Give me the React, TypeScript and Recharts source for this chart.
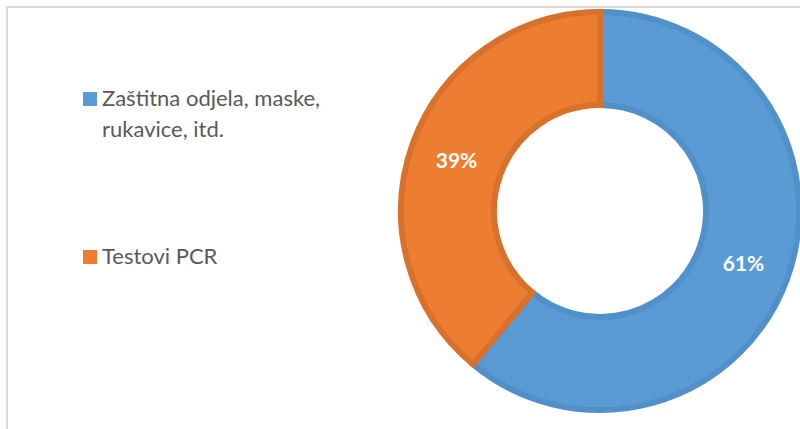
import React from 'react';
import { PieChart, Pie, Cell, Legend } from 'recharts';

const categories = ['Zaštitna odjela, maske, rukavice, itd.', 'Testovi PCR'];
const shares = [61, 39];

const fills = ['#5B9BD5', '#ED7D31'];
const strokes = ['#5190C9', '#D8712B'];

const data = categories.map((name, i) => ({ name, value: shares[i] }));

const RADIAN = Math.PI / 180;

const renderLabel = (props: any) => {
  const { cx, cy, midAngle, innerRadius, outerRadius, value } = props;
  const r = (innerRadius + outerRadius) / 2;
  const x = cx + r * Math.cos(-midAngle * RADIAN);
  const y = cy + r * Math.sin(-midAngle * RADIAN);
  return (
    <text
      x={x}
      y={y}
      fill="#ffffff"
      textAnchor="middle"
      dominantBaseline="central"
      fontFamily="Lato, sans-serif"
      fontWeight={700}
      fontSize={21}
    >
      {`${value}%`}
    </text>
  );
};

const legendLines = [
  ['Zaštitna odjela, maske,', 'rukavice, itd.'],
  ['Testovi PCR'],
];
const legendTops = [82, 240];

const renderLegend = () => (
  <div style={{ position: 'absolute', left: 0, top: 0, width: 380, height: 429 }}>
    {legendLines.map((lines, i) => (
      <div
        key={i}
        style={{
          position: 'absolute',
          left: 83,
          top: legendTops[i],
          display: 'flex',
          alignItems: 'flex-start',
          fontFamily: 'Lato, sans-serif',
          fontSize: 22,
          lineHeight: '31px',
          color: '#595959',
        }}
      >
        <span
          style={{
            display: 'inline-block',
            width: 14,
            height: 14,
            marginTop: 10,
            marginRight: 5,
            background: fills[i],
          }}
        />
        <div>
          {lines.map((l, j) => (
            <div key={j}>{l}</div>
          ))}
        </div>
      </div>
    ))}
  </div>
);

export default function App() {
  return (
    <div style={{ position: 'absolute', left: 0, top: 0, width: 800, height: 429, overflow: 'hidden', background: '#fff' }}>
      <div
        style={{
          position: 'absolute',
          left: 6,
          top: 6,
          width: 820,
          height: 440,
          borderTop: '2px solid #d9d9d9',
          borderLeft: '2px solid #d9d9d9',
        }}
      />
      <PieChart
        width={800}
        height={429}
        margin={{ top: 0, right: 0, bottom: 0, left: 0 }}
        style={{ position: 'absolute', left: 0, top: 0 }}
      >
        <Pie
          data={data}
          dataKey="value"
          nameKey="name"
          cx={600}
          cy={211}
          outerRadius={199}
          innerRadius={106}
          startAngle={90}
          endAngle={-270}
          label={renderLabel}
          labelLine={false}
          isAnimationActive={false}
        >
          {data.map((d, i) => (
            <Cell key={d.name} fill={fills[i]} stroke={strokes[i]} strokeWidth={6} />
          ))}
        </Pie>
        <Legend content={renderLegend} wrapperStyle={{ left: 0, top: 0, width: 380, height: 429 }} />
      </PieChart>
    </div>
  );
}
